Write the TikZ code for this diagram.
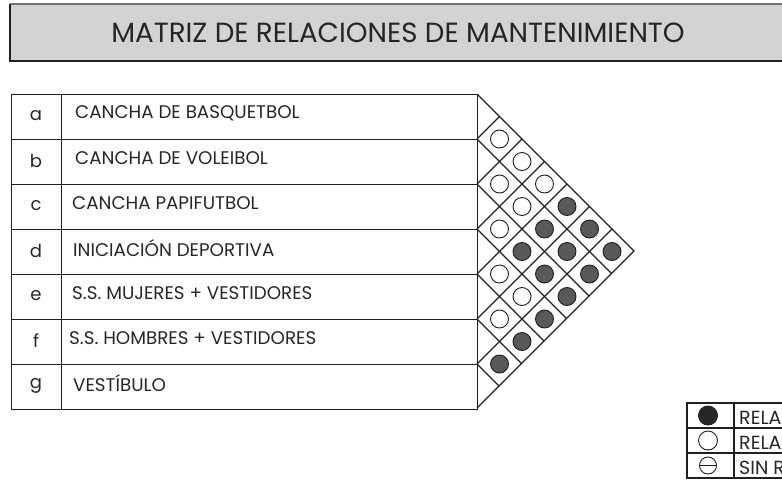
\documentclass[tikz,border=0pt]{standalone}
\usepackage{fontspec}
\setmainfont{Poppins}
\definecolor{titlegray}{RGB}{209,211,212}
\definecolor{fillgray}{RGB}{88,89,91}
\definecolor{darkfill}{RGB}{40,38,39}
\definecolor{linec}{RGB}{35,31,32}
\begin{document}
\begin{tikzpicture}[x=1pt,y=-1pt,
  rowbox/.style={draw=linec,line width=1.3pt,minimum height=45pt,inner sep=0pt,anchor=north west},
  rowtxt/.style={anchor=west,inner sep=0pt,font=\fontsize{18.3}{21}\selectfont,text=black!85},
  relopen/.style={circle,draw=linec,line width=0.9pt,fill=white,minimum size=18pt,inner sep=0pt},
  relfull/.style={circle,draw=linec,line width=0.9pt,fill=fillgray,minimum size=18pt,inner sep=0pt},
  gridl/.style={draw=linec,line width=1.1pt},
  legtxt/.style={anchor=west,inner sep=0pt,font=\fontsize{19}{22}\selectfont,text=black!85}]
\useasboundingbox (0,0) rectangle (782,485);
% title
\fill[titlegray] (10,4) rectangle (795,61);
\draw[black!55,line width=1.5pt] (10,4) -- (795,4);
\draw[linec,line width=1.5pt] (10,4) -- (10,61) -- (795,61);
\node[inner sep=0pt,text=black!85,font=\fontsize{27.7}{31}\selectfont] (title) at (398,33) {MATRIZ DE RELACIONES DE MANTENIMIENTO};
% rows
\foreach \i/\l/\t/\tx in {0/a/CANCHA DE BASQUETBOL/75,1/b/CANCHA DE VOLEIBOL/75,2/c/CANCHA PAPIFUTBOL/72,3/d/INICIACIÓN DEPORTIVA/73,4/e/S.S. MUJERES + VESTIDORES/72,5/f/S.S. HOMBRES + VESTIDORES/69,6/g/VESTÍBULO/73}{
  \node[rowbox,minimum width=50pt] (k\l) at (11,{94+45*\i}) {};
  \node[inner sep=0pt,font=\fontsize{18}{21}\selectfont,text=black!85] (let\l) at (36,{115.5+45*\i}) {\l};
  \node[rowbox,minimum width=416pt] (r\l) at (61,{94+45*\i}) {};
  \node[rowtxt] (n\l) at (\tx,{113+45*\i}) {\t};
}
% triangle
\coordinate (tt) at (477,94);
\coordinate (tr) at (634,251);
\coordinate (tb) at (477,408);
\draw[gridl] (tt) -- (tr) -- (tb);
\foreach \k in {1,...,6}{
  \pgfmathsetmacro\yk{94+45*\k}
  \draw[gridl] (477,\yk) -- ++({(408-\yk)/2},{(408-\yk)/2});
  \draw[gridl] (477,\yk) -- ++({(\yk-94)/2},{-(\yk-94)/2});
}
% relations
\foreach \i/\j/\s in {0/1/relopen,0/2/relopen,1/2/relopen,0/3/relopen,1/3/relopen,2/3/relopen,
  0/4/relfull,1/4/relfull,2/4/relfull,3/4/relopen,
  0/5/relfull,1/5/relfull,2/5/relfull,3/5/relopen,4/5/relopen,
  0/6/relfull,1/6/relfull,2/6/relfull,3/6/relfull,4/6/relfull,5/6/relfull}{
  \node[\s] (c\i\j) at ({477+22.5*(\j-\i)},{116.5+22.5*(\i+\j)}) {};
}
% legend
\draw[linec,line width=1.2pt] (687,403) rectangle (795,478);
\draw[linec,line width=1.2pt] (687,428) -- (795,428) (687,453) -- (795,453) (734,403) -- (734,478);
\node[circle,draw=linec,line width=0.9pt,fill=darkfill,minimum size=19pt,inner sep=0pt] (s1) at (708,415.5) {};
\node[circle,draw=linec,line width=0.9pt,minimum size=19pt,inner sep=0pt] (s2) at (708,440.5) {};
\node[circle,draw=linec,line width=0.9pt,minimum size=17pt,inner sep=0pt] (s3) at (708,465.5) {};
\draw[linec,line width=0.9pt] (s3.west) -- (s3.east);
\node[legtxt] (t1) at (739,415.5) {RELACIÓN DIRECTA};
\node[legtxt] (t2) at (739,440.5) {RELACIÓN INDIRECTA};
\node[legtxt] (t3) at (739,465.5) {SIN RELACIÓN};
\end{tikzpicture}
\end{document}
